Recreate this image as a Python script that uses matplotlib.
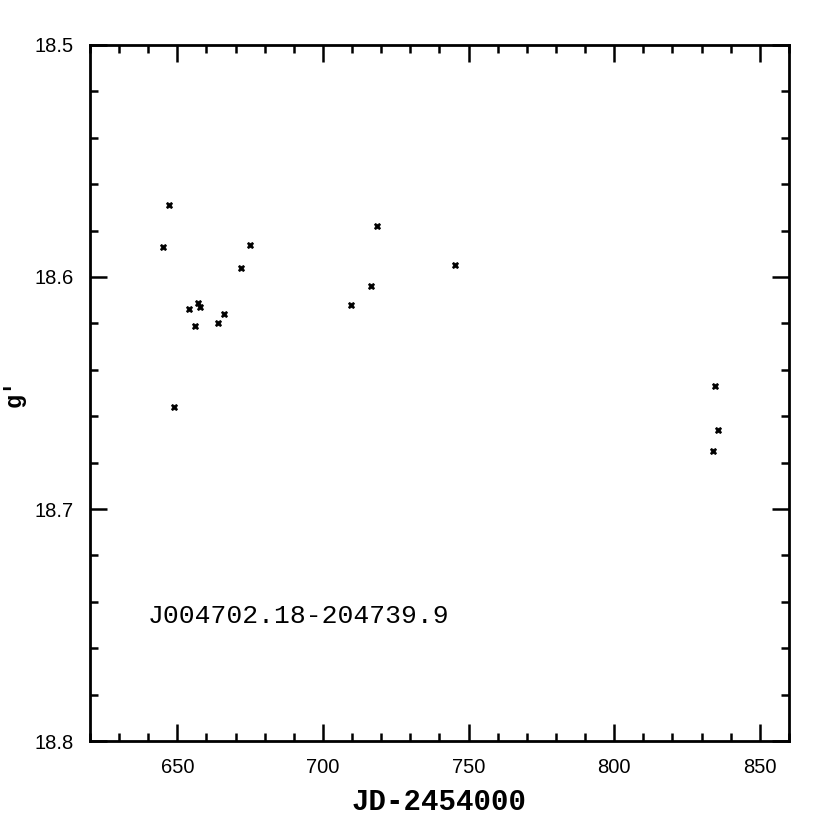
import matplotlib.pyplot as plt
from matplotlib.ticker import MultipleLocator

# light curve of J004702.18-204739.9
jd = [647.0, 645.0, 648.9, 654.0, 655.9, 657.0, 657.8, 663.8, 665.9,
      671.8, 674.8, 709.6, 716.5, 718.5, 745.4, 834.7, 835.7, 833.8]
gmag = [18.569, 18.587, 18.656, 18.614, 18.621, 18.611, 18.613, 18.620, 18.616,
        18.596, 18.586, 18.612, 18.604, 18.578, 18.595, 18.647, 18.666, 18.675]

fig = plt.figure(figsize=(8.3, 8.3), dpi=100)
ax = fig.add_axes([0.1084, 0.1072, 0.8422, 0.8386])

ax.plot(jd, gmag, 'X', color='black', markersize=5, markeredgewidth=0.5)

ax.set_xlim(620, 860)
ax.set_ylim(18.8, 18.5)
ax.xaxis.set_major_locator(MultipleLocator(50))
ax.xaxis.set_minor_locator(MultipleLocator(10))
ax.yaxis.set_major_locator(MultipleLocator(0.1))
ax.yaxis.set_minor_locator(MultipleLocator(0.02))
ax.tick_params(which='both', direction='in', top=True, right=True, width=1.8,
               labelsize=14.5, pad=12)
ax.tick_params(which='major', length=12)
ax.tick_params(which='minor', length=6)
for lab in ax.get_xticklabels() + ax.get_yticklabels():
    lab.set_family('Liberation Sans')
for s in ax.spines.values():
    s.set_linewidth(2)

ax.set_xlabel('JD-2454000', fontsize=21, family='Liberation Mono',
              fontweight='bold', labelpad=8)
ax.set_ylabel("g'", fontsize=17, family='Liberation Mono', fontweight='bold')
ax.yaxis.set_label_coords(-0.092, 0.5)
ax.text(640, 18.746, 'J004702.18-204739.9', fontsize=19, family='Liberation Mono',
        va='center', ha='left')

fig.savefig('out.png', dpi=100)
